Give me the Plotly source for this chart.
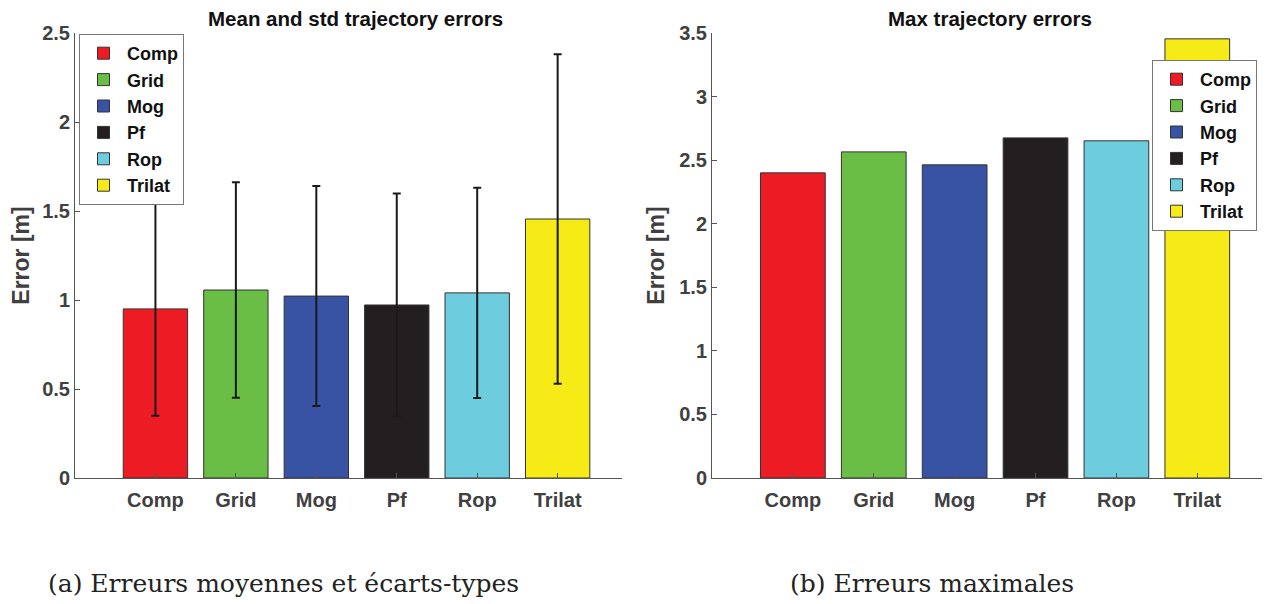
import plotly.graph_objects as go

categories = ["Comp", "Grid", "Mog", "Pf", "Rop", "Trilat"]
colors = ["#ED1C24", "#6ABD45", "#3953A4", "#231F20", "#6DCCDD", "#F6EB16"]
mean_err = [0.95, 1.056, 1.022, 0.972, 1.04, 1.455]
std_err = [0.60, 0.605, 0.618, 0.627, 0.59, 0.925]
max_err = [2.40, 2.565, 2.463, 2.675, 2.652, 3.454]

left_ticks = [0, 0.5, 1, 1.5, 2, 2.5]
right_ticks = [0, 0.5, 1, 1.5, 2, 2.5, 3, 3.5]

FONT = "Liberation Sans"
TXT = "#404040"
AX = "#555555"

# page body has an 8px margin; figure sized to fit window
OFF = 8
W, H = 1283 - OFF, 604 - OFF


def px(x):
    return (x - OFF) / W


def py(y):
    return 1 - (y - OFF) / H


fig = go.Figure()

for cat, col, m, s in zip(categories, colors, mean_err, std_err):
    fig.add_trace(go.Bar(
        x=[cat], y=[m], name=cat, marker=dict(color=col, line=dict(color="#333333", width=1)),
        error_y=dict(type="data", array=[s], visible=True, color="#1a1a1a", thickness=2, width=4),
        xaxis="x", yaxis="y", legend="legend", width=0.8,
    ))

for cat, col, v in zip(categories, colors, max_err):
    fig.add_trace(go.Bar(
        x=[cat], y=[v], name=cat, marker=dict(color=col, line=dict(color="#333333", width=1)),
        xaxis="x2", yaxis="y2", legend="legend2", width=0.8,
    ))

tickfont = dict(family=FONT, size=20, color=TXT, weight="bold")
axis_common = dict(showline=True, linecolor=AX, linewidth=1, ticks="inside", ticklen=5,
                   tickcolor=AX, showgrid=False, zeroline=False, tickfont=tickfont,
                   automargin=False)
xaxis_extra = dict(ticklabelstandoff=4)
ytitle_font = dict(family=FONT, size=23, color=TXT, weight="bold")

legend_common = dict(font=dict(family=FONT, size=18, color="#111111", weight="bold"),
                     bgcolor="white", bordercolor="#777777", borderwidth=1,
                     xanchor="left", yanchor="top", tracegroupgap=0, itemwidth=37)

fig.update_layout(
    width=W, height=H,
    margin=dict(l=0, r=0, t=0, b=0, autoexpand=False),
    paper_bgcolor="white", plot_bgcolor="white",
    barmode="overlay",
    xaxis=dict(domain=[px(75), px(622)], range=[-1, 5.8], anchor="y",
               categoryorder="array", categoryarray=categories, **axis_common, **xaxis_extra),
    yaxis=dict(domain=[py(478), py(33)], range=[0, 2.5], tickvals=left_ticks, anchor="x",
               title=dict(text="Error [m]", font=ytitle_font, standoff=8),
               **axis_common),
    xaxis2=dict(domain=[px(712), px(1262)], range=[-1, 5.8], anchor="y2",
                categoryorder="array", categoryarray=categories, **axis_common, **xaxis_extra),
    yaxis2=dict(domain=[py(478), py(33)], range=[0, 3.5], tickvals=right_ticks, anchor="x2",
                title=dict(text="Error [m]", font=ytitle_font, standoff=8),
                **axis_common),
    legend=dict(x=px(79), y=py(34), **legend_common),
    legend2=dict(x=px(1152), y=py(60), **legend_common),
    annotations=[
        dict(text="Mean and std trajectory errors", x=px(355), y=py(18), xref="paper", yref="paper",
             showarrow=False, xanchor="center", yanchor="middle",
             font=dict(family=FONT, size=20.5, color="#111111", weight="bold")),
        dict(text="Max trajectory errors", x=px(990), y=py(18), xref="paper", yref="paper",
             showarrow=False, xanchor="center", yanchor="middle",
             font=dict(family=FONT, size=20.5, color="#111111", weight="bold")),
        dict(text="(a) Erreurs moyennes et écarts-types", x=px(46), y=py(583), xref="paper", yref="paper",
             showarrow=False, xanchor="left", yanchor="middle",
             font=dict(family="DejaVu Serif", size=25, color="#222222")),
        dict(text="(b) Erreurs maximales", x=px(788), y=py(583), xref="paper", yref="paper",
             showarrow=False, xanchor="left", yanchor="middle",
             font=dict(family="DejaVu Serif", size=25, color="#222222")),
    ],
)

fig.write_html("out.html")
